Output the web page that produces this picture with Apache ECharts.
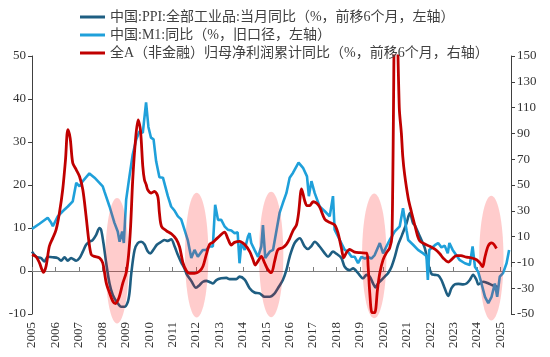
<!DOCTYPE html>
<html><head><meta charset="utf-8">
<script src="https://cdn.jsdelivr.net/npm/echarts@6/dist/echarts.min.js"></script>
<style>html,body{margin:0;padding:0;background:#fff}#c{width:550px;height:357px}</style>
</head><body><div id="c"></div>
<script>
const seriesNames = ['中国:PPI:全部工业品:当月同比（%，前移6个月，左轴）','中国:M1:同比（%，旧口径，左轴）','全A（非金融）归母净利润累计同比（%，前移6个月，右轴）'];
const leftTicks = {min:-10, max:50, interval:10};
const rightTicks = {min:-50, max:150, interval:20};
const xRange = {min:2005, max:2025.45, interval:1};

const ppi = [[2005.00,4.5],[2005.18,3.3],[2005.39,3.0],[2005.53,2.2],[2005.67,3.3],[2005.88,3.2],[2006.10,3.0],[2006.24,2.4],[2006.39,3.2],[2006.53,2.4],[2006.67,3.0],[2006.89,2.4],[2007.03,3.0],[2007.17,4.5],[2007.31,6.1],[2007.45,6.8],[2007.59,7.2],[2007.74,8.4],[2007.88,10.0],[2007.95,9.6],[2008.05,6.5],[2008.17,1.8],[2008.31,-2.9],[2008.45,-5.6],[2008.62,-7.2],[2008.81,-8.3],[2008.95,-8.3],[2009.09,-7.2],[2009.16,-5.2],[2009.24,-0.5],[2009.38,4.9],[2009.52,6.5],[2009.66,6.8],[2009.80,6.2],[2009.94,4.6],[2010.05,4.1],[2010.19,5.0],[2010.33,6.1],[2010.52,6.8],[2010.66,7.2],[2010.80,7.0],[2010.94,7.4],[2011.09,5.7],[2011.23,3.7],[2011.37,2.0],[2011.51,0.6],[2011.60,-0.7],[2011.80,-2.3],[2012.00,-3.9],[2012.15,-3.3],[2012.30,-2.5],[2012.44,-2.3],[2012.60,-2.6],[2012.72,-2.9],[2012.87,-2.1],[2013.08,-1.7],[2013.30,-1.6],[2013.44,-1.9],[2013.72,-1.9],[2013.86,-1.3],[2014.08,-2.0],[2014.29,-4.0],[2014.50,-5.0],[2014.72,-5.2],[2014.93,-6.0],[2015.15,-6.0],[2015.36,-5.2],[2015.50,-4.0],[2015.71,-2.1],[2015.86,0.2],[2016.00,3.3],[2016.21,6.5],[2016.43,7.6],[2016.64,5.7],[2016.78,5.1],[2016.93,5.8],[2017.07,6.8],[2017.28,5.7],[2017.50,4.1],[2017.64,3.3],[2017.85,4.5],[2018.00,4.0],[2018.21,3.0],[2018.35,1.0],[2018.56,0.2],[2018.71,0.6],[2018.92,-0.5],[2019.13,-1.7],[2019.28,-0.9],[2019.42,-1.3],[2019.56,-2.9],[2019.66,-3.8],[2019.77,-2.9],[2019.92,-2.1],[2020.06,-1.3],[2020.20,-0.5],[2020.35,1.0],[2020.49,3.3],[2020.63,6.1],[2020.80,8.4],[2020.99,11.1],[2021.13,13.5],[2021.27,11.1],[2021.34,10.7],[2021.56,8.0],[2021.77,5.3],[2021.91,1.8],[2022.06,-0.7],[2022.20,-0.9],[2022.34,-1.0],[2022.48,-2.1],[2022.62,-4.0],[2022.77,-5.8],[2022.91,-4.0],[2023.05,-3.1],[2023.20,-3.0],[2023.41,-3.1],[2023.55,-2.9],[2023.69,-2.1],[2023.77,-1.3],[2023.83,-0.9],[2023.98,-2.1],[2024.05,-3.1],[2024.26,-2.5],[2024.45,-2.8],[2024.66,-3.3],[2024.90,-3.7]];

const m1 = [[2005.00,9.8],[2005.32,11.0],[2005.67,12.4],[2005.82,11.2],[2005.89,10.4],[2006.10,12.7],[2006.31,13.9],[2006.53,15.0],[2006.74,16.2],[2006.89,20.5],[2007.03,19.7],[2007.17,20.9],[2007.45,22.7],[2007.67,21.7],[2007.88,20.5],[2008.02,19.7],[2008.09,18.5],[2008.31,15.0],[2008.52,11.2],[2008.66,9.2],[2008.74,6.8],[2008.85,9.2],[2008.92,6.5],[2009.02,16.6],[2009.16,22.0],[2009.30,27.1],[2009.45,30.6],[2009.59,32.5],[2009.73,32.1],[2009.87,39.2],[2009.97,33.5],[2010.08,31.0],[2010.19,30.6],[2010.30,25.5],[2010.44,21.8],[2010.59,21.7],[2010.66,22.0],[2010.80,17.4],[2010.94,15.0],[2011.09,14.0],[2011.23,12.7],[2011.37,12.0],[2011.51,9.6],[2011.65,7.2],[2011.80,3.0],[2011.94,4.9],[2012.08,3.3],[2012.29,4.9],[2012.44,4.9],[2012.58,5.7],[2012.72,5.7],[2012.82,15.4],[2012.94,11.9],[2013.08,11.9],[2013.22,10.4],[2013.36,9.6],[2013.51,9.4],[2013.65,8.8],[2013.78,9.0],[2013.86,1.8],[2013.94,6.5],[2014.08,4.9],[2014.22,8.0],[2014.29,8.8],[2014.36,6.5],[2014.50,4.9],[2014.65,3.3],[2014.79,5.7],[2014.86,10.7],[2014.96,3.0],[2015.15,4.5],[2015.29,4.9],[2015.43,9.2],[2015.57,13.5],[2015.71,15.8],[2015.86,18.1],[2016.00,21.7],[2016.14,22.8],[2016.38,25.2],[2016.57,24.0],[2016.74,22.0],[2016.82,17.4],[2016.93,20.9],[2017.07,18.1],[2017.28,15.0],[2017.50,13.9],[2017.71,12.7],[2017.85,17.4],[2017.92,9.6],[2018.14,7.2],[2018.35,4.9],[2018.49,4.5],[2018.64,3.3],[2018.78,3.3],[2018.92,1.8],[2019.06,3.3],[2019.21,2.9],[2019.35,3.3],[2019.49,2.9],[2019.63,3.7],[2019.85,6.5],[2019.99,4.1],[2020.13,5.7],[2020.27,7.2],[2020.49,9.2],[2020.70,10.4],[2020.84,14.6],[2020.99,9.5],[2021.06,7.2],[2021.27,6.1],[2021.48,4.9],[2021.70,4.1],[2021.84,3.5],[2021.90,-2.1],[2021.96,4.9],[2022.20,6.0],[2022.34,6.5],[2022.48,5.5],[2022.62,5.9],[2022.75,4.1],[2022.82,6.5],[2022.96,4.9],[2023.11,3.7],[2023.25,2.6],[2023.48,1.8],[2023.69,1.4],[2023.81,5.7],[2023.91,1.0],[2024.05,-0.2],[2024.19,-2.9],[2024.34,-6.0],[2024.48,-7.5],[2024.62,-6.0],[2024.76,-2.9],[2024.86,-6.0],[2024.97,-1.3],[2025.11,-0.5],[2025.26,1.8],[2025.37,4.9]];

const profit = [[2005.00,-4],[2005.18,-5.7],[2005.32,-10.4],[2005.49,-17.7],[2005.60,-13],[2005.74,2.5],[2005.89,9],[2006.03,15.4],[2006.17,28.3],[2006.31,46.3],[2006.43,69.5],[2006.53,93],[2006.63,86.3],[2006.74,67],[2006.89,61.8],[2007.03,56.6],[2007.17,46.3],[2007.31,25.7],[2007.42,7.6],[2007.53,-4],[2007.67,-5.3],[2007.88,-6.5],[2008.02,-10.4],[2008.17,-25.9],[2008.31,-33.6],[2008.45,-40.1],[2008.56,-41.9],[2008.71,-37.5],[2008.88,-25.9],[2009.02,-18],[2009.12,-5],[2009.21,18],[2009.30,54],[2009.42,85],[2009.53,100.5],[2009.63,92.7],[2009.73,64.4],[2009.80,54],[2009.88,50],[2009.94,46.3],[2010.09,43.8],[2010.23,45],[2010.37,41.1],[2010.44,28.3],[2010.53,17.9],[2010.74,14.5],[2010.96,12],[2011.16,8],[2011.30,2],[2011.44,-10],[2011.59,-16.5],[2011.73,-18.5],[2011.94,-18.5],[2012.15,-16.9],[2012.30,-13],[2012.44,-4],[2012.58,4],[2012.72,5.6],[2012.84,7.6],[2013.01,10.5],[2013.22,13.5],[2013.36,8.5],[2013.51,3.5],[2013.65,5.5],[2013.86,6.3],[2014.08,3.8],[2014.29,-1.5],[2014.43,-7.5],[2014.53,-12],[2014.65,-9],[2014.79,-5.3],[2014.93,-10.4],[2015.07,-15.6],[2015.22,-18],[2015.36,-9],[2015.50,-0.1],[2015.71,1.5],[2015.86,4],[2016.00,8.5],[2016.14,14.5],[2016.29,19],[2016.38,28],[2016.51,47],[2016.64,38],[2016.74,34],[2016.85,34],[2017.00,37],[2017.15,36],[2017.28,33],[2017.50,23.5],[2017.71,21],[2017.92,19],[2018.06,13],[2018.21,1],[2018.31,-6.5],[2018.42,-2.5],[2018.56,0],[2018.78,-2],[2019.00,-2.5],[2019.28,-2.8],[2019.35,-13],[2019.42,-33.6],[2019.52,-49],[2019.63,-49],[2019.75,-31],[2019.85,-18.1],[2019.99,-7.8],[2020.13,-2.6],[2020.27,1.2],[2020.37,10.2],[2020.52,230],[2020.68,110],[2020.77,90],[2020.83,72],[2020.91,58],[2021.06,40],[2021.20,29],[2021.34,19],[2021.47,10],[2021.56,6.5],[2021.77,4.2],[2021.98,2.5],[2022.20,0.2],[2022.41,-3.3],[2022.55,-6.5],[2022.77,-9.7],[2022.91,-7.8],[2023.12,-4.7],[2023.31,-4.8],[2023.55,-5.9],[2023.74,-6.4],[2023.98,-8],[2024.12,-10.4],[2024.24,-13.3],[2024.33,-6.5],[2024.47,2.5],[2024.62,5.1],[2024.72,4],[2024.83,0.8]];

// highlight ellipses: [center year, center value (left axis), half-width in years, half-height in left-axis units]
const ellipses = [[2008.63,2.4,0.5,14.6],[2012.03,3.7,0.5,14.5],[2015.21,3.85,0.52,14.6],[2019.61,3.5,0.52,14.5],[2024.61,3.0,0.52,14.5]];

const colors = ['#1E5E82','#1FA0DA','#C00000'];
const serif = "'Liberation Serif','Times New Roman',serif";
const chart = echarts.init(document.getElementById('c'));
const axisLab = {fontFamily: serif, fontSize: 13, color: '#333'};
chart.setOption({
  animation: false,
  grid: {left: 32, right: 39, top: 56, bottom: 43},
  legend: {
    data: seriesNames, orient: 'vertical', left: 75, top: 5, itemGap: 4,
    icon: 'rect', itemWidth: 25, itemHeight: 3,
    textStyle: {fontFamily: "'Liberation Serif','Noto Sans CJK SC',serif", fontSize: 14, color: '#404040', lineHeight: 14}
  },
  xAxis: [{
    type: 'value', min: xRange.min, max: xRange.max, interval: xRange.interval, position: 'bottom',
    axisLine: {show: false, onZero: false}, axisTick: {show: false}, splitLine: {show: false},
    axisLabel: Object.assign({rotate: 90, margin: 8, formatter: v => Number.isInteger(v) ? String(v) : ''}, axisLab)
  }, {
    type: 'value', min: xRange.min, max: xRange.max, interval: xRange.interval, position: 'bottom',
    axisLine: {show: true, onZero: true, onZeroAxisIndex: 0, lineStyle: {color: '#7f7f7f', width: 1}},
    axisTick: {show: true, inside: true, length: 4, lineStyle: {color: '#7f7f7f'}},
    axisLabel: {show: false}, splitLine: {show: false}
  }],
  yAxis: [{
    type: 'value', min: leftTicks.min, max: leftTicks.max, interval: leftTicks.interval,
    axisLine: {show: true, onZero: false, lineStyle: {color: '#404040'}},
    axisTick: {show: true, length: 4, lineStyle: {color: '#404040'}},
    splitLine: {show: false}, axisLabel: Object.assign({margin: 6}, axisLab)
  }, {
    type: 'value', position: 'right', min: rightTicks.min, max: rightTicks.max, interval: rightTicks.interval,
    axisLine: {show: true, onZero: false, lineStyle: {color: '#404040'}},
    axisTick: {show: true, length: 4, lineStyle: {color: '#404040'}},
    splitLine: {show: false}, axisLabel: Object.assign({margin: 6}, axisLab)
  }],
  series: [
    {name: seriesNames[0], type: 'line', data: ppi, yAxisIndex: 0, showSymbol: false, symbol: 'none', smooth: 0.3, color: colors[0], lineStyle: {width: 2.6, color: colors[0]}},
    {name: seriesNames[1], type: 'line', data: m1, yAxisIndex: 0, showSymbol: false, symbol: 'none', color: colors[1], lineStyle: {width: 2.6, color: colors[1]}},
    {name: seriesNames[2], type: 'line', data: profit, yAxisIndex: 1, showSymbol: false, symbol: 'none', smooth: 0.3, color: colors[2], lineStyle: {width: 2.8, color: colors[2]}},
    {type: 'custom', xAxisIndex: 0, yAxisIndex: 0, data: ellipses, clip: false, silent: true, z: 5,
     encode: {x: 0, y: 1},
     renderItem: function (params, api) {
       const c = api.coord([api.value(0), api.value(1)]);
       const s = api.size([api.value(2), api.value(3)]);
       const pts = [];
       for (let i = 0; i < 72; i++) { const a = i / 72 * Math.PI * 2; pts.push([c[0] + s[0] * Math.cos(a), c[1] + s[1] * Math.sin(a)]); }
       return {type: 'polygon', shape: {points: pts}, style: {fill: 'rgba(255,0,0,0.2)'}};
     }}
  ]
});
</script></body></html>
